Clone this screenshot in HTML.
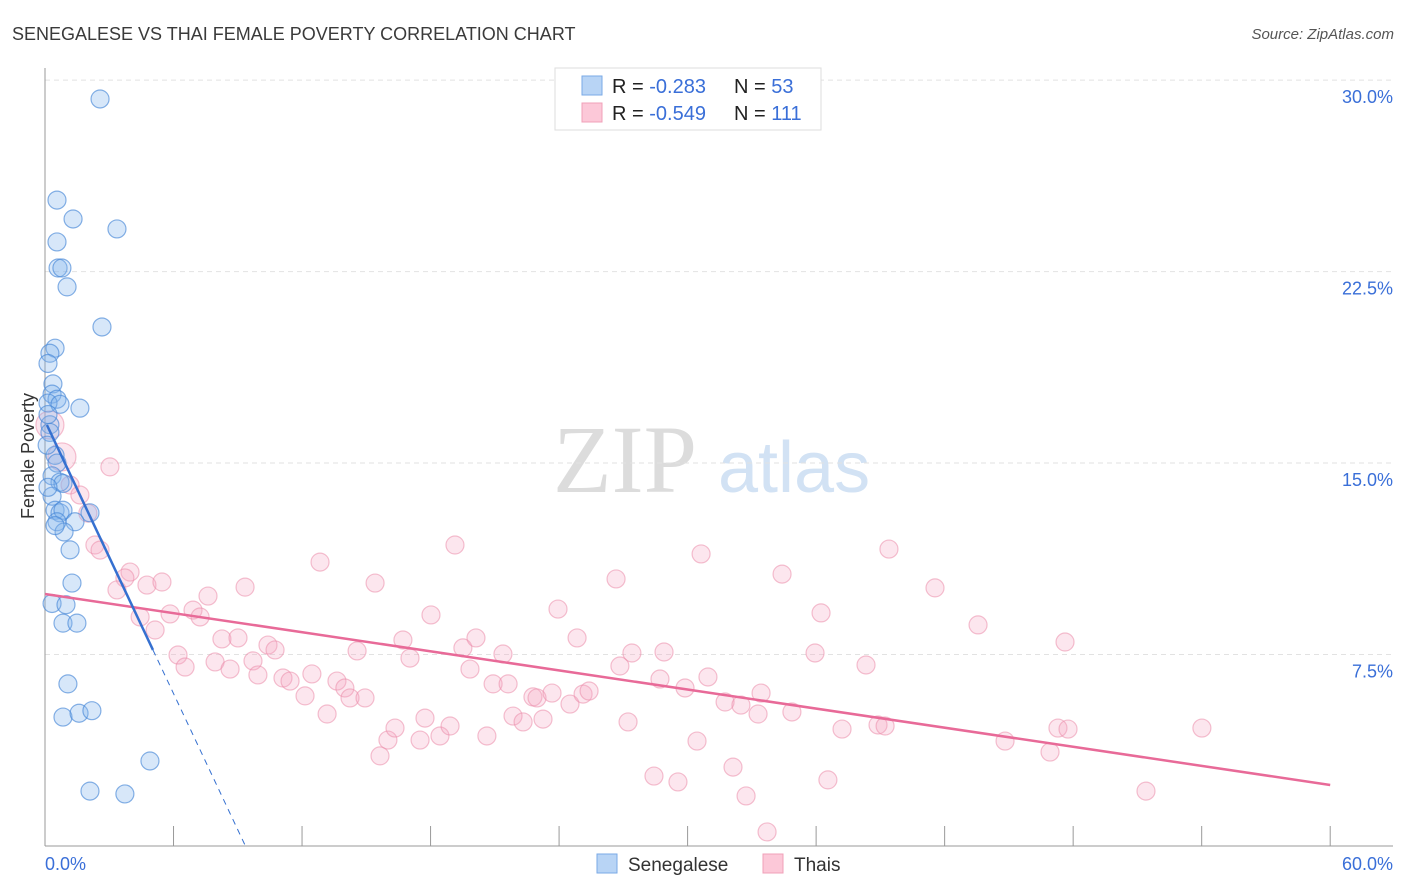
<!DOCTYPE html>
<html><head><meta charset="utf-8"><style>
body{margin:0;background:#fff;font-family:"Liberation Sans",sans-serif}
svg{display:block}
</style></head><body>
<svg width="1406" height="892" id="chart">
<text x="12" y="40" font-size="18" fill="#3a3a3a">SENEGALESE VS THAI FEMALE POVERTY CORRELATION CHART</text>
<text x="1394" y="39" font-size="15" fill="#555" font-style="italic" text-anchor="end">Source: ZipAtlas.com</text>
<text x="553" y="492" font-size="96" fill="#dcdcdc" font-family="Liberation Serif,serif">ZIP</text>
<text x="718" y="492" font-size="72" fill="#d2e2f4">atlas</text>
<text x="34" y="456" font-size="18" fill="#333" text-anchor="middle" transform="rotate(-90 34 456)">Female Poverty</text>
<g id="grid"></g><g id="axes"></g><g id="pts"></g><g id="lines"></g>
<g>
<rect x="555" y="68" width="266" height="62" fill="#fff" stroke="#ddd"/>
<rect x="582" y="76" width="20" height="19" fill="#b8d4f5" stroke="#7aaae6"/>
<rect x="582" y="103" width="20" height="19" fill="#fcc8d8" stroke="#f0a0b8"/>
<text x="612" y="93" font-size="20" fill="#222">R = <tspan fill="#3a6fd8">-0.283</tspan></text>
<text x="734" y="93" font-size="20" fill="#222">N = <tspan fill="#3a6fd8">53</tspan></text>
<text x="612" y="120" font-size="20" fill="#222">R = <tspan fill="#3a6fd8">-0.549</tspan></text>
<text x="734" y="120" font-size="20" fill="#222">N = <tspan fill="#3a6fd8">111</tspan></text>
</g>
<g>
<rect x="597" y="854" width="20" height="19" fill="#b8d4f5" stroke="#7aaae6"/>
<text x="628" y="871" font-size="19" fill="#333">Senegalese</text>
<rect x="763" y="854" width="20" height="19" fill="#fcc8d8" stroke="#f0a0b8"/>
<text x="794" y="871" font-size="19" fill="#333">Thais</text>
</g>
</svg>
<script>
const yTicks=[7.5,15,22.5,30];
const yTickLabels=["7.5%","15.0%","22.5%","30.0%"];
const xTicks=[0,6,12,18,24,30,36,42,48,54,60];
const blueX=[2.57,0.56,1.31,3.36,0.56,0.61,0.79,1.03,2.66,0.47,0.23,0.14,0.37,0.33,0.56,0.14,0.7,1.63,0.23,0.23,0.47,0.56,0.33,0.7,0.84,0.33,2.1,0.47,0.7,0.84,0.56,1.4,0.89,1.17,1.26,0.33,0.98,0.84,1.49,1.07,0.84,1.59,2.19,4.9,2.1,3.73,0.14,0.1,0.14,0.47];
const blueY=[29.26,25.3,24.56,24.17,23.66,22.64,22.64,21.9,20.33,19.5,19.3,18.9,18.1,17.7,17.5,17.35,17.3,17.15,16.5,16.2,15.3,15.0,14.5,14.25,14.2,13.7,13.05,13.15,13.05,13.15,12.7,12.7,12.3,11.6,10.3,9.5,9.45,8.73,8.73,6.35,5.05,5.2,5.3,3.33,2.15,2.04,16.9,15.7,14.05,12.55];
const pinkX=[0.23,0.79,3.03,1.17,1.63,2.0,2.33,2.57,3.97,3.73,3.36,4.76,5.46,4.44,5.14,5.84,6.21,6.54,7.61,6.91,7.24,8.26,9.01,9.34,7.94,8.64,9.71,9.94,10.41,10.74,11.11,11.44,12.14,12.46,12.84,13.17,13.63,14.0,14.24,14.57,14.94,15.41,15.64,16.01,16.34,16.71,17.04,17.51,17.74,18.02,18.44,18.91,19.14,19.51,19.84,20.12,20.63,20.92,21.38,21.62,21.85,22.32,22.78,22.97,23.25,23.67,23.95,24.51,24.84,25.12,25.4,26.66,26.84,27.22,27.4,28.43,28.71,28.9,29.55,29.88,30.44,30.63,30.95,31.75,32.12,32.49,32.73,33.29,33.43,33.71,34.41,34.87,35.95,36.23,36.55,37.21,38.33,38.89,39.22,39.4,41.55,43.56,44.82,46.92,47.29,47.62,47.76,51.4,54.01];
const pinkY=[16.49,15.24,14.85,14.14,13.75,13.04,11.79,11.59,10.73,10.5,10.03,10.22,10.34,8.97,8.46,9.09,7.48,7.01,9.79,9.24,8.97,8.11,8.15,10.14,7.21,6.93,7.25,6.7,7.87,7.68,6.58,6.46,5.88,6.74,11.12,5.17,6.46,6.19,5.8,7.64,5.8,10.3,3.53,4.15,4.62,8.07,7.36,4.15,5.01,9.05,4.31,4.7,11.79,7.76,6.93,8.15,4.31,6.35,7.52,6.35,5.09,4.86,5.84,5.8,4.97,5.99,9.28,5.56,8.15,5.95,6.07,10.46,7.05,4.86,7.56,2.74,6.54,7.6,2.51,6.19,4.11,11.44,6.62,5.64,3.09,5.52,1.96,5.17,5.99,0.55,10.65,5.25,7.56,9.13,2.59,4.58,7.09,4.74,4.7,11.63,10.11,8.66,4.11,3.68,4.62,7.99,4.58,2.15,4.62];
const blueTrend=[0.09,16.49,5.04,7.68,9.34,0.03];
const pinkTrend=[0,9.87,60,2.39];
const X=v=>45+v*21.42, Y=v=>846-v*25.53;
const NS="http://www.w3.org/2000/svg";
function mk(tag,attrs,parent){const e=document.createElementNS(NS,tag);for(const k in attrs)e.setAttribute(k,attrs[k]);document.getElementById(parent).appendChild(e);return e;}
yTicks.forEach((t,i)=>{
 const l=mk('line',{x1:45,x2:1393,y1:Y(t),y2:Y(t),stroke:'#e2e2e2','stroke-dasharray':'5,4'},'grid');
 
 
 const tx=mk('text',{x:1393,y:Y(t)+23,'font-size':18,fill:'#3a6fd8','text-anchor':'end'},'grid');
 tx.textContent=yTickLabels[i];
 
 
});
const ya=mk('line',{x1:45,x2:45,y1:68,y2:846,stroke:'#999'},'axes');


const xa=mk('line',{x1:45,x2:1393,y1:846,y2:846,stroke:'#999'},'axes');


xTicks.forEach(t=>{const l=mk('line',{x1:X(t),x2:X(t),y1:826,y2:846,stroke:'#999'},'axes');
 
 });
const xl0=mk('text',{x:45,y:870,'font-size':18,fill:'#3a6fd8'},'axes');xl0.textContent=xTicks[0].toFixed(1)+'%';


const xl1=mk('text',{x:1393,y:870,'font-size':18,fill:'#3a6fd8','text-anchor':'end'},'axes');xl1.textContent=xTicks[xTicks.length-1].toFixed(1)+'%';


pinkX.forEach((v,i)=>{const c=mk('circle',{cx:X(v),cy:Y(pinkY[i]),r:i<2?14:9,fill:'rgba(245,165,195,0.28)',stroke:'rgba(235,140,170,0.55)','stroke-width':1.2},'pts');
 
 });
blueX.forEach((v,i)=>{const c=mk('circle',{cx:X(v),cy:Y(blueY[i]),r:9,fill:'rgba(130,180,235,0.32)',stroke:'rgba(70,135,215,0.65)','stroke-width':1.2},'pts');
 
 });
const pl=mk('line',{x1:X(pinkTrend[0]),y1:Y(pinkTrend[1]),x2:X(pinkTrend[2]),y2:Y(pinkTrend[3]),stroke:'#e86a98','stroke-width':2.5},'lines');


const bl=mk('line',{x1:X(blueTrend[0]),y1:Y(blueTrend[1]),x2:X(blueTrend[2]),y2:Y(blueTrend[3]),stroke:'#3570d0','stroke-width':2.5},'lines');


const bd=mk('line',{x1:X(blueTrend[2]),y1:Y(blueTrend[3]),x2:X(blueTrend[4]),y2:Y(blueTrend[5]),stroke:'#3570d0','stroke-width':1,'stroke-dasharray':'6,5'},'lines');


</script>
</body></html>
